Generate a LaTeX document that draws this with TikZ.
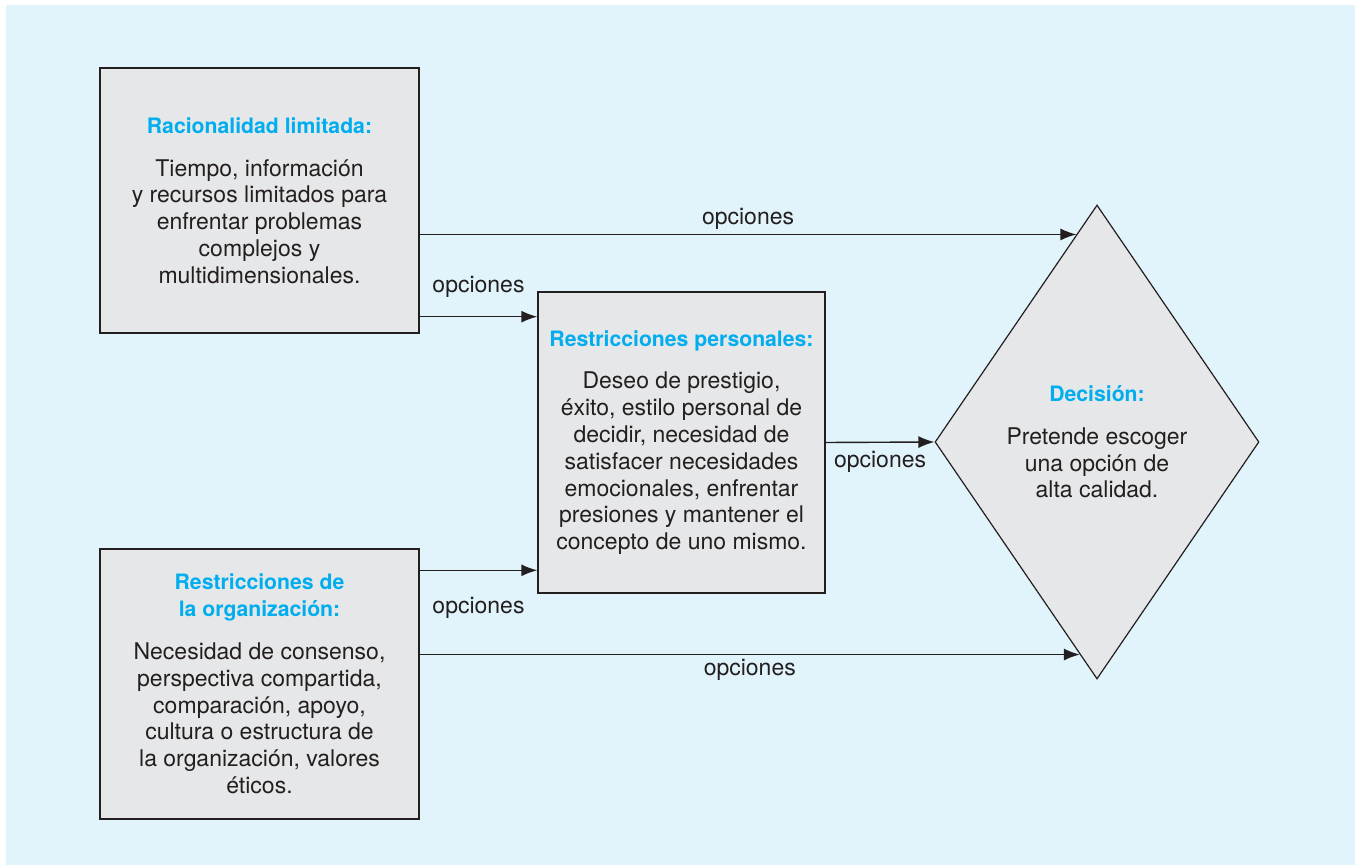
\documentclass[tikz,border=0pt]{standalone}
\usepackage{fontspec}
\setmainfont{TeX Gyre Heros}
\usepackage{xcolor}
\usepackage{tikz}
\usetikzlibrary{shapes.geometric, arrows.meta, calc}

\definecolor{bgblue}{HTML}{E1F3FB}
\definecolor{boxgray}{HTML}{E6E7E8}
\definecolor{titleblue}{HTML}{00AEEF}
\definecolor{inkgray}{HTML}{231F20}

\newcommand{\boxtitle}[1]{{\color{titleblue}\bfseries\fontsize{10.6}{13.4}\selectfont #1}}

\begin{document}
\begin{tikzpicture}[
    x=0.5pt, y=-0.5pt,
    box/.style={
        draw=inkgray,
        fill=boxgray,
        line width=0.7pt,
        minimum width=159.5pt,
        align=center,
        text=inkgray,
        inner sep=0pt,
        font=\fontsize{11.5}{13.4}\selectfont
    },
    decisionbox/.style={
        diamond,
        draw=inkgray,
        fill=boxgray,
        line width=0.6pt,
        minimum width=162pt,
        minimum height=237pt,
        inner sep=0pt,
        align=center,
        text=inkgray,
        font=\fontsize{11.5}{13.4}\selectfont
    },
    arrow/.style={
        draw=inkgray,
        line width=0.7pt,
        -{Latex[length=8pt, width=6pt]}
    },
    optlabel/.style={
        text=inkgray,
        inner sep=2pt,
        font=\fontsize{11.5}{13.4}\selectfont
    }
]

    % Background
    \useasboundingbox (0,0) rectangle (1355,865);
    \fill[bgblue] (6,5) rectangle (1355,865);

    % Left column
    \node[box, minimum height=132.5pt] (racional) at (259.5, 200.5) {\boxtitle{Racionalidad limitada:}\\[8pt]
        Tiempo, información\\ y recursos limitados para\\ enfrentar problemas\\ complejos y\\ multidimensionales.};
    \node[box, minimum height=135pt] (organiz) at (259.5, 684) {\boxtitle{Restricciones de}\\ \boxtitle{la organización:}\\[8pt]
        Necesidad de consenso,\\ perspectiva compartida,\\ comparación, apoyo,\\ cultura o estructura de\\ la organización, valores\\ éticos.};

    % Middle
    \node[box, minimum width=143.5pt, minimum height=150.5pt] (personal) at (681.5, 442.5) {\boxtitle{Restricciones personales:}\\[8pt]
        Deseo de prestigio,\\ éxito, estilo personal de\\ decidir, necesidad de\\ satisfacer necesidades\\ emocionales, enfrentar\\ presiones y mantener el\\ concepto de uno mismo.};

    % Decision
    \node[decisionbox] (decision) at (1097, 442) {\boxtitle{Decisión:}\\[8pt]
        Pretende escoger\\ una opción de\\ alta calidad.};

    % Entry points on the diamond
    \coordinate (topin) at ($(decision.north)!30/237!(decision.west)$);
    \coordinate (botin) at ($(decision.south)!25/237!(decision.west)$);
    \coordinate (racout) at ($(racional.south east)+(0,-17)$);
    \coordinate (orgout) at ($(organiz.north east)+(0,22)$);

    % Connections
    \draw[arrow] (racional.east |- topin) -- node[optlabel, above] {opciones} (topin);
    \draw[arrow] (racout) -- node[optlabel, above=7pt] {opciones} (racout -| personal.west);
    \draw[arrow] (orgout) -- node[optlabel, below=11pt] {opciones} (orgout -| personal.west);
    \draw[arrow] (organiz.east |- botin) -- node[optlabel, below] {opciones} (botin);
    \draw[arrow] (personal.east) -- node[optlabel, below=2pt] {opciones} (decision.west);

\end{tikzpicture}
\end{document}
